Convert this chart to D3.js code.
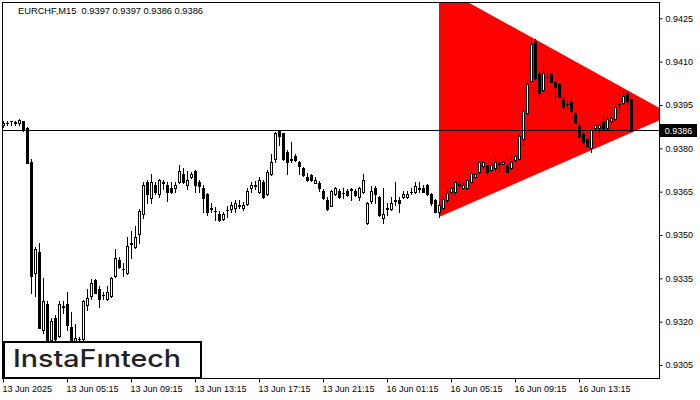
<!DOCTYPE html>
<html><head><meta charset="utf-8">
<script src="https://cdn.jsdelivr.net/npm/d3@7"></script>
<style>
html,body{margin:0;padding:0;background:#fff;}
svg{display:block;}
</style></head><body>
<svg id="chart" width="700" height="400"></svg>
<script>
const title = "EURCHF,M15  0.9397 0.9397 0.9386 0.9386";

const openP = [0.93879,0.93887,0.93893,0.93891,0.93889,0.93893,0.93872,0.93753,0.93369,0.93440,
0.93171,0.93261,0.93136,0.93211,0.93151,0.93254,0.93261,0.93180,0.93133,0.93138,
0.93140,0.93257,0.93290,0.93344,0.93312,0.93290,0.93278,0.93290,0.93359,0.93413,
0.93384,0.93369,0.93471,0.93459,0.93502,0.93571,0.93684,0.93629,0.93673,0.93642,
0.93683,0.93673,0.93661,0.93661,0.93682,0.93711,0.93673,0.93699,0.93721,0.93683,
0.93661,0.93642,0.93592,0.93584,0.93571,0.93554,0.93586,0.93589,0.93592,0.93604,
0.93592,0.93606,0.93661,0.93673,0.93650,0.93683,0.93642,0.93710,0.93762,0.93861,
0.93852,0.93788,0.93762,0.93773,0.93751,0.93731,0.93701,0.93707,0.93681,0.93681,
0.93653,0.93621,0.93602,0.93642,0.93653,0.93646,0.93653,0.93659,0.93653,0.93630,
0.93650,0.93540,0.93618,0.93661,0.93630,0.93558,0.93592,0.93589,0.93621,0.93621,
0.93630,0.93631,0.93650,0.93650,0.93661,0.93661,0.93673,0.93642,0.93621,0.93578,
0.93592,0.93621,0.93650,0.93650,0.93675,0.93661,0.93661,0.93684,0.93699,0.93719,
0.93740,0.93742,0.93725,0.93731,0.93748,0.93745,0.93742,0.93731,0.93759,0.93762,
0.93831,0.93921,0.94033,0.94171,0.94059,0.94002,0.94048,0.94059,0.94030,0.94022,
0.93970,0.93953,0.93961,0.93921,0.93880,0.93854,0.93831,0.93800,0.93869,0.93869,
0.93892,0.93869,0.93894,0.93900,0.93953,0.93958,0.93990,0.93970];

const highP = [0.93895,0.93894,0.93895,0.93894,0.93901,0.93896,0.93875,0.93763,0.93459,0.93471,
0.93350,0.93271,0.93211,0.93223,0.93271,0.93271,0.93301,0.93232,0.93192,0.93147,
0.93275,0.93312,0.93346,0.93347,0.93323,0.93303,0.93323,0.93354,0.93451,0.93424,
0.93402,0.93494,0.93515,0.93531,0.93589,0.93684,0.93690,0.93711,0.93684,0.93695,
0.93692,0.93684,0.93682,0.93682,0.93742,0.93731,0.93721,0.93719,0.93725,0.93692,
0.93673,0.93645,0.93609,0.93596,0.93583,0.93579,0.93600,0.93615,0.93621,0.93621,
0.93615,0.93661,0.93684,0.93687,0.93700,0.93690,0.93725,0.93782,0.93856,0.93863,
0.93854,0.93794,0.93823,0.93782,0.93756,0.93735,0.93713,0.93710,0.93701,0.93687,
0.93659,0.93630,0.93655,0.93666,0.93659,0.93661,0.93659,0.93661,0.93659,0.93666,
0.93711,0.93614,0.93670,0.93670,0.93635,0.93661,0.93609,0.93630,0.93684,0.93630,
0.93653,0.93653,0.93661,0.93682,0.93682,0.93673,0.93676,0.93645,0.93624,0.93614,
0.93631,0.93655,0.93669,0.93690,0.93693,0.93684,0.93697,0.93718,0.93714,0.93754,
0.93754,0.93745,0.93753,0.93773,0.93759,0.93762,0.93745,0.93777,0.93782,0.93849,
0.93953,0.94036,0.94183,0.94180,0.94064,0.94088,0.94059,0.94062,0.94036,0.94026,
0.93977,0.93967,0.93978,0.93925,0.93884,0.93858,0.93834,0.93867,0.93888,0.93884,
0.93912,0.93915,0.93921,0.93953,0.93961,0.94002,0.93995,0.93970];

const lowP = [0.93875,0.93880,0.93880,0.93880,0.93882,0.93861,0.93749,0.93298,0.93290,0.93178,
0.93161,0.93109,0.93122,0.93129,0.93147,0.93231,0.93171,0.93109,0.93116,0.93126,
0.93129,0.93240,0.93278,0.93299,0.93252,0.93278,0.93276,0.93287,0.93356,0.93387,
0.93358,0.93366,0.93422,0.93456,0.93471,0.93560,0.93609,0.93609,0.93642,0.93630,
0.93658,0.93617,0.93647,0.93650,0.93680,0.93680,0.93659,0.93697,0.93650,0.93650,
0.93580,0.93569,0.93580,0.93552,0.93548,0.93552,0.93563,0.93580,0.93580,0.93592,
0.93586,0.93604,0.93650,0.93659,0.93645,0.93628,0.93638,0.93707,0.93751,0.93811,
0.93759,0.93710,0.93751,0.93756,0.93710,0.93704,0.93687,0.93687,0.93679,0.93653,
0.93626,0.93588,0.93600,0.93638,0.93628,0.93627,0.93635,0.93621,0.93635,0.93621,
0.93647,0.93539,0.93609,0.93609,0.93565,0.93540,0.93569,0.93586,0.93604,0.93580,
0.93628,0.93628,0.93642,0.93647,0.93650,0.93648,0.93638,0.93605,0.93578,0.93561,
0.93590,0.93615,0.93647,0.93647,0.93661,0.93659,0.93659,0.93682,0.93697,0.93716,
0.93737,0.93716,0.93721,0.93719,0.93719,0.93744,0.93717,0.93728,0.93757,0.93759,
0.93811,0.93918,0.94031,0.94041,0.93978,0.94000,0.94042,0.94028,0.93961,0.93976,
0.93932,0.93932,0.93927,0.93886,0.93837,0.93820,0.93806,0.93788,0.93867,0.93840,
0.93867,0.93867,0.93884,0.93898,0.93921,0.93953,0.93955,0.93860];

const closeP = [0.93889,0.93889,0.93894,0.93889,0.93899,0.93864,0.93750,0.93358,0.93451,0.93179,
0.93271,0.93126,0.93202,0.93140,0.93261,0.93252,0.93188,0.93122,0.93143,0.93140,
0.93271,0.93281,0.93333,0.93300,0.93278,0.93291,0.93301,0.93350,0.93422,0.93390,
0.93383,0.93462,0.93469,0.93494,0.93583,0.93673,0.93642,0.93683,0.93650,0.93692,
0.93681,0.93650,0.93650,0.93673,0.93721,0.93682,0.93692,0.93711,0.93673,0.93670,
0.93627,0.93580,0.93591,0.93583,0.93552,0.93571,0.93585,0.93604,0.93609,0.93602,
0.93604,0.93652,0.93673,0.93671,0.93692,0.93630,0.93719,0.93751,0.93852,0.93842,
0.93762,0.93751,0.93760,0.93759,0.93740,0.93707,0.93690,0.93690,0.93692,0.93661,
0.93629,0.93591,0.93652,0.93661,0.93630,0.93645,0.93638,0.93657,0.93638,0.93661,
0.93692,0.93609,0.93653,0.93642,0.93569,0.93571,0.93591,0.93609,0.93619,0.93609,
0.93642,0.93643,0.93648,0.93670,0.93660,0.93650,0.93642,0.93609,0.93580,0.93604,
0.93623,0.93644,0.93661,0.93684,0.93674,0.93673,0.93692,0.93713,0.93711,0.93751,
0.93751,0.93719,0.93742,0.93751,0.93747,0.93751,0.93719,0.93751,0.93773,0.93842,
0.93930,0.94021,0.94160,0.94044,0.93990,0.94059,0.94047,0.94030,0.94011,0.93978,
0.93942,0.93952,0.93930,0.93888,0.93840,0.93823,0.93809,0.93863,0.93880,0.93880,
0.93869,0.93900,0.93905,0.93942,0.93952,0.93981,0.93965,0.93860];

const timeTickIndex = [0,16,32,48,64,80,96,112,128,144];
const timeTickLabels = ["13 Jun 2025","13 Jun 05:15","13 Jun 09:15","13 Jun 13:15","13 Jun 17:15",
  "13 Jun 21:15","16 Jun 01:15","16 Jun 05:15","16 Jun 09:15","16 Jun 13:15"];
const priceTicks = [0.9305,0.9320,0.9335,0.9350,0.9365,0.9380,0.9395,0.9410,0.9425];
const currentPrice = 0.9386;
const triangleIndex = [109,109,167.2];
const trianglePrice = [0.94361,0.93562,0.93916];
const logoText = "InstaFıntech";

const FONT = "'Liberation Sans', Arial, sans-serif";
const svg = d3.select("#chart");
svg.append("rect").attr("width",700).attr("height",400).attr("fill","#fff");

const plot = {l:3, r:659, t:3, b:378};
const x = d3.scaleLinear().domain([0, openP.length-1]).range([3, 3 + 4*(openP.length-1)]);
const y = d3.scaleLinear().domain([0.9305, 0.9425]).range([365, 18.3]);

svg.append("clipPath").attr("id","clip").append("rect")
  .attr("x",plot.l).attr("y",plot.t).attr("width",plot.r-plot.l).attr("height",plot.b-plot.t);

const g = svg.append("g").attr("clip-path","url(#clip)");

// triangle
const triPts = triangleIndex.map((d,i)=>[x(d), y(trianglePrice[i])]);
g.append("path").attr("d", d3.line()(triPts) + "Z").attr("fill","#ff0000");

// candles
const cg = g.append("g").attr("shape-rendering","crispEdges");
openP.forEach((o,i)=>{
  const c = closeP[i], h = highP[i], l = lowP[i];
  const px = Math.round(x(i));
  const yh = Math.round(y(h)), yl = Math.round(y(l));
  const yt = Math.round(y(Math.max(o,c))), yb = Math.round(y(Math.min(o,c)));
  cg.append("line").attr("x1",px+0.5).attr("x2",px+0.5).attr("y1",yh).attr("y2",yl+1)
    .attr("stroke","#000").attr("stroke-width",1);
  if (c > o && yb - yt >= 2) {
    cg.append("rect").attr("x",px-0.5).attr("y",yt+0.5).attr("width",2).attr("height",yb-yt)
      .attr("fill","#fff").attr("stroke","#000").attr("stroke-width",1);
  } else if (c < o && yb - yt >= 1) {
    cg.append("rect").attr("x",px-1).attr("y",yt).attr("width",3).attr("height",yb-yt+1)
      .attr("fill","#000");
  } else {
    cg.append("rect").attr("x",px-1).attr("y",yt).attr("width",3).attr("height",1).attr("fill","#000");
  }
});

// current price line
const yc = Math.round(y(currentPrice)) - 0.5;
svg.append("line").attr("x1",plot.l).attr("x2",plot.r).attr("y1",yc).attr("y2",yc)
  .attr("stroke","#000").attr("stroke-width",1);

// frame
svg.append("rect").attr("x",2.5).attr("y",2.5).attr("width",plot.r-2).attr("height",plot.b-2)
  .attr("fill","none").attr("stroke","#000").attr("stroke-width",1);

// right axis
const ya = svg.append("g").attr("transform",`translate(${plot.r+0.5},0)`)
  .call(d3.axisRight(y).tickValues(priceTicks).tickFormat(d3.format(".4f")).tickSize(3).tickPadding(3).tickSizeOuter(0));
ya.select(".domain").remove();
ya.selectAll("text").attr("font-family",FONT).attr("font-size",9).attr("fill","#000");
ya.selectAll("line").attr("stroke","#000");

// bottom axis
const xa = svg.append("g").attr("transform",`translate(0,${plot.b+0.5})`)
  .call(d3.axisBottom(x).tickValues(timeTickIndex).tickFormat((d,i)=>timeTickLabels[i]).tickSize(4).tickPadding(3).tickSizeOuter(0));
xa.select(".domain").remove();
xa.selectAll("text").attr("font-family",FONT).attr("font-size",9).attr("fill","#000")
  .attr("text-anchor","start").attr("dx",-1);
xa.selectAll("line").attr("stroke","#000");

// price label
svg.append("rect").attr("x",660).attr("y",yc-6.5).attr("width",37).attr("height",13).attr("fill","#000");
svg.append("text").attr("x",678.5).attr("y",yc+3.5).attr("text-anchor","middle")
  .attr("font-family",FONT).attr("font-size",9).attr("fill","#fff").text(d3.format(".4f")(currentPrice));

// title
svg.append("text").attr("x",18).attr("y",14).attr("font-family",FONT).attr("font-size",9.3)
  .attr("fill","#000").attr("xml:space","preserve").style("white-space","pre").text(title);

// logo
svg.append("rect").attr("x",4).attr("y",342).attr("width",197).attr("height",36)
  .attr("fill","#fff").attr("stroke","#000").attr("stroke-width",2);
svg.append("text").attr("x",13).attr("y",367).attr("font-family","Inter, Lato, sans-serif")
  .attr("font-size",24).attr("font-weight",500).attr("fill","#222")
  .attr("textLength",168).attr("lengthAdjust","spacingAndGlyphs")
  .text(logoText);
</script>
</body></html>
